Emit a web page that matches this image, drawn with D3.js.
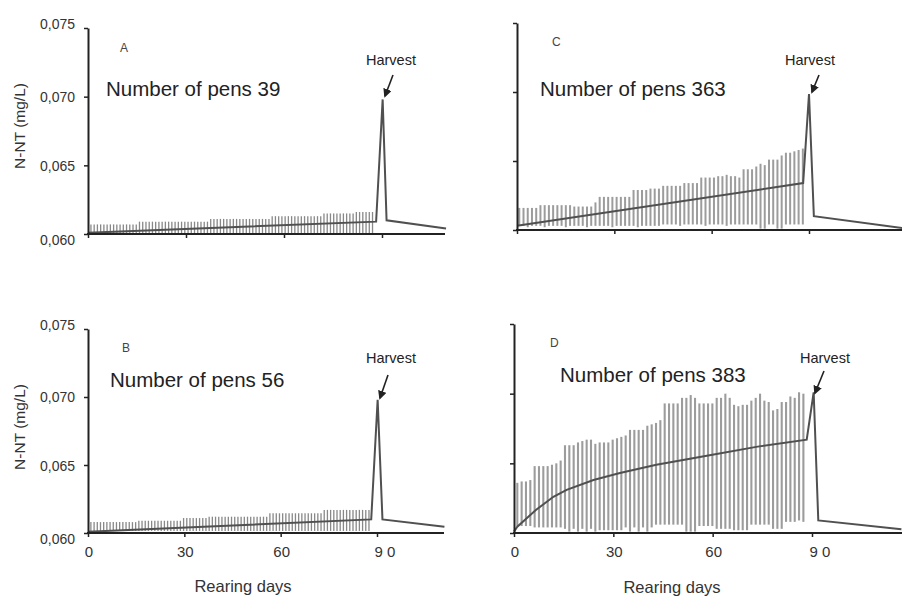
<!DOCTYPE html>
<html>
<head>
<meta charset="utf-8">
<script src="https://cdn.jsdelivr.net/npm/d3@7"></script>
<style>
  body { margin: 0; background: #fff; }
  text { font-family: "Liberation Sans", Arial, sans-serif; }
</style>
</head>
<body>
<svg id="chart"></svg>
<script>
const W = 902, H = 598;

// axis ticks
const xTicks = [0, 30, 60, 90];
const xTickLabels = ['0', '30', '60', '9 0'];
const yTicks = [0.060, 0.065, 0.070, 0.075];
const yTickLabels = ['0,060', '0,065', '0,070', '0,075'];

// panel A - 39 pens
const topsA = [
  0.0607, 0.0607, 0.0607, 0.0607, 0.0607, 0.0607, 0.0607, 0.0607, 0.0607, 0.0607, 0.0607, 0.0607, 0.0607, 0.0607, 0.0607,
  0.0609, 0.0609, 0.0609, 0.0609, 0.0609, 0.0609, 0.0609, 0.0609, 0.0609, 0.0609, 0.0609, 0.0609, 0.0609, 0.0609, 0.0609,
  0.0609, 0.0609, 0.0609, 0.0609, 0.0609, 0.0609, 0.0609,
  0.0611, 0.0611, 0.0611, 0.0611, 0.0611, 0.0611, 0.0611, 0.0611, 0.0611, 0.0611, 0.0611, 0.0611, 0.0611, 0.0611, 0.0611,
  0.0611, 0.0611, 0.0611, 0.0611,
  0.0613, 0.0613, 0.0613, 0.0613, 0.0613, 0.0613, 0.0613, 0.0613, 0.0613, 0.0613, 0.0613, 0.0613, 0.0613, 0.0613, 0.0613, 0.0613,
  0.0615, 0.0615, 0.0615, 0.0615, 0.0615, 0.0615, 0.0615, 0.0615, 0.0615, 0.0615,
  0.0616, 0.0616, 0.0616, 0.0616, 0.0616, 0.0616
];
const bottomA = 0.06005;
const meanDaysA = [0, 88.2, 90.2, 91.4, 109.6];
const meanValsA = [0.0601, 0.0609, 0.0698, 0.0610, 0.0604];

// panel B - 56 pens
const topsB = [
  0.0608, 0.0608, 0.0608, 0.0608, 0.0608, 0.0608, 0.0608, 0.0608, 0.0608, 0.0608, 0.0608, 0.0608, 0.0608, 0.0608, 0.0608,
  0.0609, 0.0609, 0.0609, 0.0609, 0.0609, 0.0609, 0.0609, 0.0609, 0.0609, 0.0609, 0.0609, 0.0609, 0.0609, 0.0609,
  0.0611, 0.0611, 0.0611, 0.0611, 0.0611, 0.0611, 0.0611, 0.0611,
  0.0612, 0.0612, 0.0612, 0.0612, 0.0612, 0.0612, 0.0612, 0.0612, 0.0612, 0.0612, 0.0612, 0.0612, 0.0612, 0.0612, 0.0612,
  0.0612, 0.0612, 0.0612, 0.0612,
  0.06145, 0.06145, 0.06145, 0.06145, 0.06145, 0.06145, 0.06145, 0.06145, 0.06145, 0.06145, 0.06145, 0.06145, 0.06145,
  0.06145, 0.06145, 0.06145, 0.06145,
  0.0617, 0.0617, 0.0617, 0.0617, 0.0617, 0.0617, 0.0617, 0.0617, 0.0617, 0.0617, 0.0617, 0.0617, 0.0617, 0.0617, 0.0617
];
const bottomB = 0.06015;
const meanDaysB = [0, 88.2, 90.2, 91.7, 111];
const meanValsB = [0.0601, 0.0610, 0.0698, 0.0610, 0.06046];

// panel C - 363 pens
const topsC = [
  0.0616, 0.0616, 0.0616, 0.0616, 0.0616,
  0.0618, 0.0618, 0.0618, 0.0618, 0.0618, 0.0618, 0.0618, 0.0618,
  0.0617, 0.0617, 0.0617, 0.0617, 0.0617,
  0.0620,
  0.0624, 0.0624, 0.0624, 0.0624, 0.0624, 0.0624, 0.0624, 0.0624,
  0.0629, 0.0629, 0.0629, 0.0629,
  0.0630, 0.0630, 0.0630,
  0.0632, 0.0632, 0.0632, 0.0632, 0.0632,
  0.0634, 0.0634, 0.0634, 0.0634,
  0.0638, 0.0638, 0.0638, 0.0638,
  0.0639, 0.0639, 0.0640, 0.0639, 0.0639, 0.0638,
  0.0644, 0.0644, 0.0644,
  0.0646, 0.0648, 0.0647,
  0.0651, 0.0651, 0.0651,
  0.0654, 0.0656, 0.0656, 0.0657,
  0.0658, 0.0659
];
const bottomsC = [
  0.0603, 0.0603, 0.0602, 0.0603, 0.0603, 0.0603, 0.0602, 0.0603, 0.0603, 0.0603, 0.0603, 0.0602, 0.0603, 0.0603,
  0.0603, 0.0603, 0.0602, 0.0603, 0.0603, 0.0603, 0.0603, 0.0603, 0.0602, 0.0603, 0.0603, 0.0603, 0.0603, 0.0603,
  0.0602, 0.0603, 0.0603, 0.0603, 0.0603, 0.0603, 0.0604, 0.0604, 0.0604, 0.0604, 0.0603, 0.0604, 0.0604, 0.0604,
  0.0604, 0.0604, 0.0603, 0.0604, 0.0604, 0.0604, 0.0604, 0.0603, 0.0604, 0.0604, 0.0604, 0.0604, 0.0604, 0.0604,
  0.0604, 0.0601, 0.0601, 0.0604, 0.0604, 0.0601, 0.0601, 0.0604, 0.0604, 0.0604, 0.0604, 0.0604
];
const meanDaysC = [0, 88.2, 90, 91.5, 118.7];
const meanValsC = [0.0603, 0.0634, 0.06985, 0.0610, 0.06015];

// panel D - 383 pens
const topsD = [
  0.0636, 0.0637, 0.0637, 0.0638, 0.0648, 0.0648, 0.0648, 0.0648, 0.0649, 0.0650, 0.0652,
  0.0663, 0.0663, 0.0663, 0.0665, 0.0666, 0.0667, 0.0667, 0.0664, 0.0665, 0.0665, 0.0665,
  0.0667, 0.0668, 0.0669, 0.0670, 0.0674, 0.0674, 0.0674, 0.0674, 0.0677, 0.0678,
  0.0679, 0.0681, 0.0693, 0.0693, 0.0693, 0.0693, 0.0697, 0.0697, 0.0699, 0.0697,
  0.0693, 0.0693, 0.0693, 0.0693, 0.0697, 0.0697, 0.0700, 0.0697, 0.0692, 0.0691,
  0.0692, 0.0692, 0.0695, 0.0697, 0.0700, 0.0695, 0.0694, 0.0688, 0.0689, 0.0694,
  0.0694, 0.0698, 0.0697, 0.0701, 0.0700
];
const bottomsD = [
  0.0605, 0.0605, 0.0605, 0.0605, 0.0604, 0.0604, 0.0604, 0.0604, 0.0604, 0.0604, 0.0604,
  0.0603, 0.0601, 0.0603, 0.0601, 0.0603, 0.0601, 0.0603, 0.0601, 0.0602, 0.0602, 0.0602,
  0.0602, 0.0602, 0.0602, 0.0604, 0.0601, 0.0604, 0.0601, 0.0604, 0.0601, 0.0604,
  0.0606, 0.0606, 0.0606, 0.0606, 0.0606, 0.0606, 0.0606, 0.0601, 0.0601, 0.0601,
  0.0605, 0.0605, 0.0605, 0.0605, 0.0603, 0.0603, 0.0603, 0.0603, 0.0602, 0.0602,
  0.0602, 0.0602, 0.0606, 0.0606, 0.0606, 0.0606, 0.0606, 0.0603, 0.0603, 0.0603,
  0.0608, 0.0608, 0.0608, 0.0609, 0.0608
];
const meanDaysD = [0, 1, 6.6, 11.9, 15.9, 24, 32, 43, 59.5, 73.6, 88.4, 90.5, 91.9, 117];
const meanValsD = [0.0601, 0.06045, 0.06165, 0.0626, 0.0631, 0.0638, 0.0643, 0.0649, 0.0656, 0.0662, 0.0667, 0.0701, 0.0609, 0.06027];

const panels = [
  { letter: 'A', pens: 'Number of pens 39', tops: topsA, bottoms: topsA.map(() => bottomA),
    meanDays: meanDaysA, meanVals: meanValsA, barDays: [0.9, 87.1], barW: 1.3, barColor: '#888',
    x0: 88, x90: 382, xEnd: 445, y60: 234, y75: 28,
    letterPos: [120, 52], pensPos: [106, 96], harvestPos: [366, 65], arrow: [[393, 75], [385, 96]],
    yLabels: true, xLabels: false, yTitle: [20, 126] },
  { letter: 'C', pens: 'Number of pens 363', tops: topsC, bottoms: bottomsC,
    meanDays: meanDaysC, meanVals: meanValsC, barDays: [0.7, 88.1], barW: 2, barColor: '#9c9c9c',
    x0: 517, x90: 809, xEnd: 903, y60: 230, y75: 23,
    letterPos: [552, 46], pensPos: [540, 96], harvestPos: [785, 65], arrow: [[819, 75], [812, 92]],
    yLabels: false, xLabels: false },
  { letter: 'B', pens: 'Number of pens 56', tops: topsB, bottoms: topsB.map(() => bottomB),
    meanDays: meanDaysB, meanVals: meanValsB, barDays: [0.9, 87.5], barW: 1.3, barColor: '#888',
    x0: 88, x90: 377, xEnd: 444, y60: 533, y75: 329,
    letterPos: [122, 352], pensPos: [110, 387], harvestPos: [366, 363], arrow: [[388, 375], [380, 398]],
    yLabels: true, xLabels: true, yTitle: [20, 427], xTitle: [243, 592] },
  { letter: 'D', pens: 'Number of pens 383', tops: topsD, bottoms: bottomsD,
    meanDays: meanDaysD, meanVals: meanValsD, barDays: [1.0, 87.4], barW: 2.1, barColor: '#9c9c9c',
    x0: 514, x90: 812, xEnd: 903, y60: 533, y75: 324,
    letterPos: [550, 347], pensPos: [560, 382], harvestPos: [800, 363], arrow: [[824, 371], [815, 393]],
    yLabels: false, xLabels: true, xTitle: [672, 593] }
];

const svg = d3.select('#chart')
  .attr('width', W)
  .attr('height', H)
  .attr('viewBox', `0 0 ${W} ${H}`);

svg.append('defs').append('marker')
  .attr('id', 'arrowhead')
  .attr('viewBox', '0 0 10 10')
  .attr('refX', 8).attr('refY', 5)
  .attr('markerWidth', 5.5).attr('markerHeight', 5.5)
  .attr('orient', 'auto')
  .append('path')
    .attr('d', 'M0,0 L10,5 L0,10 Z')
    .attr('fill', '#222');

panels.forEach(p => {
  const g = svg.append('g');
  const x = d3.scaleLinear().domain([0, 90]).range([p.x0, p.x90]);
  const y = d3.scaleLinear().domain([0.060, 0.075]).range([p.y60, p.y75]);

  // bars (min-max range per sampling day)
  const n = p.tops.length;
  const step = (p.barDays[1] - p.barDays[0]) / (n - 1);
  g.append('g')
    .selectAll('line')
    .data(p.tops)
    .enter()
      .append('line')
      .attr('x1', (_, i) => x(p.barDays[0] + i * step))
      .attr('x2', (_, i) => x(p.barDays[0] + i * step))
      .attr('y1', (_, i) => y(p.bottoms[i]))
      .attr('y2', d => y(d))
      .style('stroke', p.barColor)
      .style('stroke-width', p.barW);

  // mean line with harvest peak
  const line = d3.line()
    .x(d => x(d[0]))
    .y(d => y(d[1]));
  g.append('path')
    .datum(p.meanDays.map((d, i) => [d, p.meanVals[i]]))
    .attr('d', line)
    .style('fill', 'none')
    .style('stroke', '#505050')
    .style('stroke-width', 2)
    .style('stroke-linejoin', 'miter');

  // y axis
  const yAxis = d3.axisLeft(y)
    .tickValues(yTicks)
    .tickSize(4)
    .tickSizeOuter(0)
    .tickFormat('');
  const ya = g.append('g')
    .attr('transform', `translate(${p.x0},0)`)
    .call(yAxis);
  ya.select('.domain').style('stroke', '#222').style('stroke-width', 2);
  ya.selectAll('.tick line').style('stroke', '#222').style('stroke-width', 1.5);

  if (p.yLabels) {
    const dys = [6, 1, 0, -4];
    g.append('g')
      .selectAll('text')
      .data(yTicks)
      .enter()
        .append('text')
        .attr('x', p.x0 - 13)
        .attr('y', (d, i) => y(d) + dys[i])
        .attr('dy', '0.35em')
        .attr('text-anchor', 'end')
        .style('font-size', '14px')
        .style('fill', '#333')
        .text((_, i) => yTickLabels[i]);
    g.append('text')
      .attr('transform', `translate(${p.yTitle[0]},${p.yTitle[1]}) rotate(-90)`)
      .attr('dy', '0.35em')
      .attr('text-anchor', 'middle')
      .style('font-size', '15.5px')
      .style('fill', '#333')
      .text('N-NT (mg/L)');
  }

  // x axis
  const xAxis = d3.axisBottom(x)
    .tickValues(xTicks)
    .tickSize(4)
    .tickSizeOuter(0)
    .tickFormat('');
  const xa = g.append('g')
    .attr('transform', `translate(0,${p.y60})`)
    .call(xAxis);
  xa.select('.domain').remove();
  xa.selectAll('.tick line').style('stroke', '#222').style('stroke-width', 1.5);
  g.append('line')
    .attr('x1', p.x0 - 1).attr('x2', p.xEnd)
    .attr('y1', p.y60).attr('y2', p.y60)
    .style('stroke', '#222')
    .style('stroke-width', 2);

  if (p.xLabels) {
    g.append('g')
      .selectAll('text')
      .data(xTicks)
      .enter()
        .append('text')
        .attr('x', (d, i) => x(d) + (i === 3 ? 8 : 1))
        .attr('y', p.y60 + 24)
        .attr('text-anchor', 'middle')
        .style('font-size', '15px')
        .style('fill', '#333')
        .text((_, i) => xTickLabels[i]);
    g.append('text')
      .attr('x', p.xTitle[0])
      .attr('y', p.xTitle[1])
      .attr('text-anchor', 'middle')
      .style('font-size', '16.5px')
      .style('fill', '#333')
      .text('Rearing days');
  }

  // annotations
  g.append('text')
    .attr('x', p.letterPos[0]).attr('y', p.letterPos[1])
    .style('font-size', '12px')
    .style('fill', '#444')
    .text(p.letter);
  g.append('text')
    .attr('x', p.pensPos[0]).attr('y', p.pensPos[1])
    .style('font-size', '20.5px')
    .style('fill', '#222')
    .text(p.pens);
  g.append('text')
    .attr('x', p.harvestPos[0]).attr('y', p.harvestPos[1])
    .style('font-size', '14.5px')
    .style('fill', '#222')
    .text('Harvest');
  g.append('line')
    .attr('x1', p.arrow[0][0]).attr('y1', p.arrow[0][1])
    .attr('x2', p.arrow[1][0]).attr('y2', p.arrow[1][1])
    .style('stroke', '#222')
    .style('stroke-width', 1.6)
    .attr('marker-end', 'url(#arrowhead)');
});
</script>
</body>
</html>
